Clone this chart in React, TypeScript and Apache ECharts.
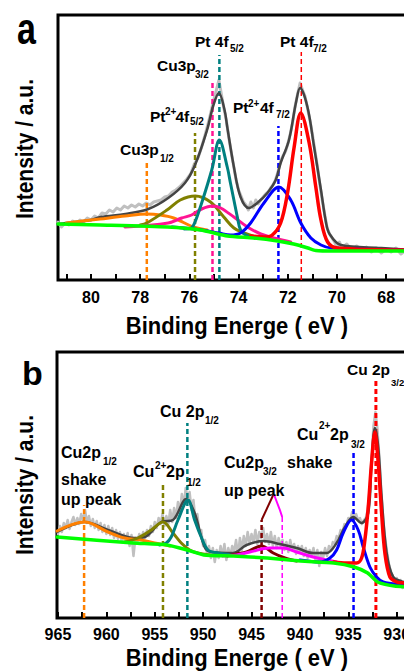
import React, { useEffect, useRef } from "react";
import * as echarts from "echarts";

// ================= Panel a : Pt 4f / Cu 3p =================
const aTickLabels = [68, 70, 72, 74, 76, 78, 80];
const aTicks = [67, 68, 69, 70, 71, 72, 73, 74, 75, 76, 77, 78, 79, 80, 81];

const aRaw: number[][] = [
  [81.34, 58], [81.2, 53], [81.05, 57], [80.9, 55], [80.75, 59], [80.6, 56], [80.45, 60], [80.3, 58],
  [80.15, 62], [80.0, 60], [79.85, 64], [79.7, 62], [79.55, 67], [79.4, 66], [79.25, 70], [79.1, 68],
  [78.95, 72], [78.8, 70], [78.65, 74], [78.5, 72], [78.35, 75], [78.2, 73], [78.05, 76], [77.9, 74],
  [77.75, 77], [77.6, 75], [77.45, 78], [77.3, 79], [77.15, 80], [77.0, 83], [76.85, 84], [76.7, 88],
  [76.55, 90], [76.4, 93], [76.25, 97], [76.1, 101], [75.95, 106], [75.8, 116], [75.65, 122], [75.5, 133],
  [75.35, 146], [75.2, 160], [75.05, 176], [74.9, 190], [74.8, 200], [74.7, 186], [74.6, 172], [74.5, 160],
  [74.4, 143], [74.3, 128], [74.2, 114], [74.1, 100], [74.0, 90], [73.9, 84], [73.8, 78], [73.7, 75],
  [73.6, 70], [73.5, 78], [73.4, 72], [73.3, 80], [73.2, 76], [73.1, 80], [73.0, 83], [72.9, 86],
  [72.8, 88], [72.7, 92], [72.6, 95], [72.5, 100], [72.4, 108], [72.3, 118], [72.2, 124], [72.1, 128],
  [72.0, 136], [71.9, 146], [71.8, 158], [71.7, 174], [71.6, 186], [71.5, 197], [71.4, 190], [71.3, 184],
  [71.2, 172], [71.1, 160], [71.0, 146], [70.9, 130], [70.8, 114], [70.7, 96], [70.6, 80], [70.5, 66],
  [70.4, 52], [70.3, 46], [70.2, 42], [70.1, 38], [70.0, 33], [69.9, 38], [69.8, 32], [69.6, 36],
  [69.4, 30], [69.2, 34], [69.0, 30], [68.8, 33], [68.6, 28], [68.4, 32], [68.2, 27], [68.0, 31],
  [67.8, 28], [67.6, 32], [67.4, 26], [67.2, 30], [66.95, 28],
];
const aEnvelope: number[][] = [
  [81.34, 56], [81.0, 57], [80.0, 60], [79.6, 63], [78.6, 66], [77.67, 71], [76.86, 82], [76.18, 97],
  [75.77, 115], [75.28, 150], [75.02, 175], [74.8, 187], [74.57, 170], [74.46, 153], [74.19, 113],
  [73.92, 83], [73.58, 72], [73.24, 77], [72.83, 87], [72.49, 100], [72.29, 117], [71.95, 140],
  [71.67, 177], [71.5, 192], [71.2, 173], [70.93, 133], [70.65, 90], [70.45, 58], [70.3, 46],
  [69.84, 35], [68.2, 32], [66.95, 30],
];
const aBaseline: number[][] = [
  [81.34, 56], [79.63, 55], [76.9, 53], [75.55, 50], [74.45, 44], [73.39, 42], [72.41, 39],
  [71.76, 36], [71.18, 32], [70.86, 29.5], [70.12, 29], [66.95, 29],
];
const aRed: number[][] = [
  [73.5, 44], [72.97, 43], [72.63, 45], [72.29, 57], [72.01, 87], [71.74, 133], [71.47, 167],
  [71.13, 137], [70.86, 93], [70.65, 60], [70.38, 38], [69.97, 32], [66.95, 30],
];
const aBlue: number[][] = [
  [76.7, 53], [75.5, 50], [74.8, 47], [74.33, 45], [73.92, 47], [73.51, 57], [72.97, 77], [72.36, 93],
  [71.88, 80], [71.47, 57], [71.06, 42], [70.65, 35], [70.24, 32], [66.95, 30],
];
const aTeal: number[][] = [
  [76.2, 51], [75.92, 52], [75.77, 58], [75.5, 77], [75.09, 110], [74.78, 140], [74.46, 113],
  [74.33, 97], [74.19, 80], [74.05, 63], [73.92, 50], [73.71, 45], [73.31, 42],
];
const aPink: number[][] = [
  [78.62, 53], [76.86, 57], [76.31, 62], [75.91, 65], [75.5, 71], [75.06, 74], [74.73, 72],
  [74.19, 63], [73.64, 53], [73.1, 46], [72.57, 42], [71.88, 38],
];
const aOlive: number[][] = [
  [78.0, 55], [77.73, 57], [76.91, 70], [76.37, 80], [75.76, 84], [75.14, 78], [74.6, 63],
  [74.19, 52], [73.78, 47], [73.31, 43],
];
const aOrange: number[][] = [
  [81.0, 57], [79.63, 61], [78.61, 64], [77.73, 66], [77.18, 65], [76.64, 62], [75.83, 53], [75.28, 50],
];
// peak position markers: [binding energy, top of marker]
const aMarkOrange = [77.73, 117];
const aMarkOlive = [75.77, 147];
const aMarkPink = [75.06, 200];
const aMarkTeal = [74.78, 225];
const aMarkBlue = [72.38, 154];
const aMarkRed = [71.45, 228];

// ================= Panel b : Cu 2p =================
const bTickLabels = [930, 935, 940, 945, 950, 955, 960, 965];
const bTicks = [930, 932.5, 935, 937.5, 940, 942.5, 945, 947.5, 950, 952.5, 955, 957.5, 960, 962.5, 965];

const bRaw: number[][] = [
  [965.0, 84], [964.8, 92], [964.6, 86], [964.4, 95], [964.2, 90], [964.0, 98], [963.8, 89], [963.6, 96],
  [963.4, 101], [963.2, 93], [963.0, 100], [962.8, 94], [962.6, 104], [962.4, 97], [962.2, 108], [962.0, 95],
  [961.8, 102], [961.6, 92], [961.4, 99], [961.2, 90], [961.0, 97], [960.8, 88], [960.6, 95], [960.4, 86],
  [960.2, 93], [960.0, 84], [959.8, 92], [959.6, 83], [959.4, 90], [959.2, 80], [959.0, 88], [958.8, 79],
  [958.6, 86], [958.4, 76], [958.2, 84], [958.0, 78], [957.8, 85], [957.6, 72], [957.4, 83], [957.2, 62],
  [957.0, 80], [956.8, 76], [956.6, 84], [956.4, 78], [956.2, 86], [956.0, 80], [955.8, 88], [955.6, 82],
  [955.4, 92], [955.2, 86], [955.0, 96], [954.8, 90], [954.6, 100], [954.4, 94], [954.2, 104], [954.0, 92],
  [953.8, 102], [953.6, 94], [953.4, 108], [953.2, 96], [953.0, 110], [952.8, 100], [952.6, 116], [952.4, 106],
  [952.2, 124], [952.0, 112], [951.8, 130], [951.6, 120], [951.4, 126], [951.2, 108], [951.0, 118], [950.8, 98],
  [950.6, 104], [950.4, 86], [950.2, 88], [950.0, 72], [949.8, 78], [949.6, 64], [949.4, 72], [949.2, 60],
  [949.0, 70], [948.8, 56], [948.6, 68], [948.4, 60], [948.2, 72], [948.0, 62], [947.8, 74], [947.6, 58],
  [947.4, 70], [947.2, 62], [947.0, 72], [946.8, 66], [946.6, 78], [946.4, 62], [946.2, 80], [946.0, 68],
  [945.8, 82], [945.6, 72], [945.4, 86], [945.2, 74], [945.0, 84], [944.8, 76], [944.6, 88], [944.4, 74],
  [944.2, 86], [944.0, 80], [943.8, 90], [943.6, 76], [943.4, 84], [943.2, 74], [943.0, 86], [942.8, 72],
  [942.6, 82], [942.4, 70], [942.2, 80], [942.0, 72], [941.8, 78], [941.6, 68], [941.4, 76], [941.2, 66],
  [941.0, 78], [940.8, 68], [940.6, 74], [940.4, 64], [940.2, 72], [940.0, 66], [939.8, 72], [939.6, 62],
  [939.4, 70], [939.2, 60], [939.0, 68], [938.8, 62], [938.6, 70], [938.4, 58], [938.2, 68], [938.0, 52],
  [937.8, 66], [937.6, 60], [937.4, 70], [937.2, 62], [937.0, 72], [936.8, 68], [936.6, 76], [936.4, 74],
  [936.2, 82], [936.0, 80], [935.8, 88], [935.6, 86], [935.4, 94], [935.2, 92], [935.0, 100], [934.8, 98],
  [934.6, 106], [934.4, 102], [934.2, 104], [934.0, 98], [933.8, 100], [933.6, 94], [933.4, 98], [933.2, 100],
  [933.0, 108], [932.8, 128], [932.6, 160], [932.4, 192], [932.2, 206], [932.0, 190], [931.8, 162], [931.6, 128],
  [931.4, 100], [931.2, 80], [931.0, 66], [930.8, 54], [930.6, 46], [930.4, 42], [930.2, 38], [930.0, 40],
  [929.8, 34], [929.6, 38], [929.4, 30], [929.2, 36], [929.0, 20], [928.8, 32], [928.6, 28], [928.42, 34],
];
const bEnvelope: number[][] = [
  [965.1, 86], [962.24, 96], [959.83, 88], [957.08, 80], [956.04, 81], [954.33, 96], [953.12, 98],
  [951.75, 119], [950.88, 105], [949.85, 71], [949.16, 66], [946.92, 65], [945.51, 73], [943.79, 77],
  [942.07, 74], [940.34, 70], [938.63, 65], [937.24, 65], [936.21, 75], [935.35, 91], [934.49, 101],
  [933.63, 95], [932.94, 105], [932.6, 155], [932.25, 190], [931.91, 171], [931.56, 121], [931.04, 65],
  [930.36, 41], [929.26, 36], [928.42, 35],
];
const bBaseline: number[][] = [
  [965.1, 81], [957.23, 75], [953.74, 73], [951.66, 68], [949.94, 63], [946.87, 62], [943.37, 60],
  [939.92, 57], [936.5, 55], [934.4, 51], [933.0, 45], [931.97, 36], [930.25, 32], [928.42, 31],
];
const bRed: number[][] = [
  [936.5, 56], [935.18, 55], [934.15, 55], [933.63, 60], [933.29, 78], [932.94, 111], [932.6, 155],
  [932.25, 186], [931.91, 155], [931.56, 105], [931.22, 65], [930.7, 41], [930.01, 36], [929.26, 35], [928.42, 34],
];
const bBlue: number[][] = [
  [940.0, 58], [937.93, 56], [936.9, 60], [936.21, 68], [935.53, 85], [934.67, 98], [933.98, 88],
  [933.46, 71], [932.77, 51], [932.08, 41], [931.39, 36], [929.26, 33], [928.42, 32],
];
const bMagenta: number[][] = [
  [948.0, 62], [946.55, 63], [945.17, 66], [943.1, 70], [941.73, 70], [940.34, 66], [938.63, 61],
  [937.24, 58], [936.21, 56],
];
const bDarkRed: number[][] = [
  [947.5, 62], [946.55, 64], [945.51, 66], [943.96, 72], [942.76, 65], [941.55, 60], [940.34, 57],
];
const bTeal: number[][] = [
  [954.5, 73], [953.81, 75], [953.3, 81], [952.6, 98], [951.57, 118], [950.88, 98], [950.2, 81],
  [949.5, 68], [948.47, 65], [946.92, 63],
];
const bOlive: number[][] = [
  [958.11, 76], [956.74, 80], [955.36, 88], [954.15, 96], [953.12, 85], [952.26, 75], [951.39, 68],
  [950.54, 65], [949.3, 63],
];
const bOrange: number[][] = [
  [965.1, 87], [962.24, 96], [959.83, 86], [958.11, 80], [956.4, 78], [955.01, 75], [953.43, 72],
];
const bMarkOrange = [962.3, 113];
const bMarkOlive = [954.15, 133];
const bMarkTeal = [951.63, 195];
const bMarkDarkRed = [943.96, 98];
const bMarkMagenta = [941.83, 101];
const bMarkBlue = [934.46, 166];
const bMarkRed = [932.15, 240];
// the two legs pointing at the shake-up label
const bLegDarkRed: number[][] = [[943.96, 98], [942.76, 123]];
const bLegMagenta: number[][] = [[941.83, 101], [942.07, 108], [942.66, 123]];

const FONT = '"Liberation Sans", Arial, Helvetica, sans-serif';

function curve(data: number[][], color: string, width: number, gi: number, z: number, smooth: number | boolean = 0.35) {
  return {
    type: "line",
    data,
    xAxisIndex: gi,
    yAxisIndex: gi,
    symbol: "none",
    smooth,
    z,
    silent: true,
    lineStyle: { color, width, cap: "round", join: "round" },
  };
}
function marker(m: number[], color: string, width: number, gi: number) {
  return {
    type: "line",
    data: [[m[0], 0], [m[0], m[1]]],
    xAxisIndex: gi,
    yAxisIndex: gi,
    symbol: "none",
    z: 2,
    silent: true,
    lineStyle: { color, width, type: [5, 3] },
  };
}
function leg(data: number[][], color: string, gi: number) {
  return {
    type: "line",
    data,
    xAxisIndex: gi,
    yAxisIndex: gi,
    symbol: "none",
    z: 2,
    silent: true,
    lineStyle: { color, width: 2 },
  };
}

function txt(text: string, x: number, y: number, size: number, extra: any = {}) {
  const { align, ...rest } = extra;
  return {
    type: "text",
    x,
    y,
    z: 100,
    silent: true,
    ...rest,
    style: {
      text,
      fill: "#000",
      font: `bold ${size}px ${FONT}`,
      textAlign: align || "left",
      textVerticalAlign: "middle",
      verticalAlign: "middle",
    },
  };
}

function xAxisCfg(gi: number, min: number, max: number, labels: number[], ticks: number[], margin: number) {
  return {
    type: "value",
    gridIndex: gi,
    min,
    max,
    inverse: true,
    splitNumber: 7,
    axisLine: { show: false },
    axisTick: { show: true, inside: true, length: 6, customValues: ticks, lineStyle: { color: "#000", width: 2 } },
    axisLabel: {
      show: true,
      customValues: labels,
      margin,
      color: "#000",
      fontSize: 16,
      fontWeight: "bold",
      fontFamily: FONT,
    },
    splitLine: { show: false },
  };
}
function yAxisCfg(gi: number, max: number) {
  return {
    type: "value",
    gridIndex: gi,
    min: 0,
    max,
    axisLine: { show: false },
    axisTick: { show: false },
    axisLabel: { show: false },
    splitLine: { show: false },
  };
}

export default function App() {
  const ref = useRef<HTMLDivElement>(null);
  useEffect(() => {
    if (!ref.current) return;
    const chart = echarts.init(ref.current, undefined, { renderer: "svg" });
    const M = 15.5;
    const S = 10;
    const MB = 16;
    const option: any = {
      animation: false,
      backgroundColor: "#fff",
      grid: [
        { left: 58, top: 15, width: 354, height: 265, show: true, borderColor: "#000", borderWidth: 3, backgroundColor: "transparent", containLabel: false, outerBoundsMode: "none" },
        { left: 57, top: 352, width: 355, height: 266, show: true, borderColor: "#000", borderWidth: 3, backgroundColor: "transparent", containLabel: false, outerBoundsMode: "none" },
      ],
      xAxis: [
        xAxisCfg(0, 66.95, 81.34, aTickLabels, aTicks, 9),
        xAxisCfg(1, 928.42, 965.1, bTickLabels, bTicks, 8.5),
      ],
      yAxis: [yAxisCfg(0, 265), yAxisCfg(1, 266)],
      series: [
        // panel a
        curve(aRaw, "#c0c0c0", 3, 0, 1, false),
        marker(aMarkOrange, "#ff8000", 2.5, 0),
        marker(aMarkOlive, "#808000", 2.5, 0),
        marker(aMarkPink, "#ff1493", 2.5, 0),
        marker(aMarkTeal, "#008080", 2.5, 0),
        marker(aMarkBlue, "#0000ff", 2.5, 0),
        marker(aMarkRed, "#ff0000", 1.5, 0),
        curve(aEnvelope, "#444444", 2.5, 0, 3),
        curve(aOrange, "#ff8000", 3, 0, 4),
        curve(aOlive, "#808000", 3, 0, 4),
        curve(aPink, "#ff1493", 3, 0, 4),
        curve(aTeal, "#008080", 3, 0, 4),
        curve(aBlue, "#0000ff", 3, 0, 4),
        curve(aRed, "#ff0000", 3.5, 0, 4),
        curve(aBaseline, "#00ff00", 3.5, 0, 5, 0.2),
        // panel b
        curve(bRaw, "#c0c0c0", 2.5, 1, 1, false),
        marker(bMarkOrange, "#ff8000", 2.5, 1),
        marker(bMarkOlive, "#808000", 2.5, 1),
        marker(bMarkTeal, "#008080", 2.5, 1),
        marker(bMarkDarkRed, "#800000", 2.5, 1),
        marker(bMarkMagenta, "#ff00ff", 1.5, 1),
        marker(bMarkBlue, "#0000ff", 2.5, 1),
        marker(bMarkRed, "#ff0000", 3, 1),
        leg(bLegDarkRed, "#800000", 1),
        leg(bLegMagenta, "#ff00ff", 1),
        curve(bEnvelope, "#444444", 2.5, 1, 3),
        curve(bOrange, "#ff8000", 3, 1, 4),
        curve(bOlive, "#808000", 3, 1, 4),
        curve(bTeal, "#008080", 3, 1, 4),
        curve(bDarkRed, "#800000", 3, 1, 4),
        curve(bMagenta, "#ff00ff", 3, 1, 4),
        curve(bBlue, "#0000ff", 3, 1, 4),
        curve(bRed, "#ff0000", 3.5, 1, 4),
        curve(bBaseline, "#00ff00", 3.5, 1, 5, 0.2),
      ],
      graphic: [
        // panel letters & axis titles
        txt("a", 17, 28, 34, { scaleY: 1.3 }),
        txt("b", 22, 373, 34),
        txt("Intensity / a.u.", 25, 149, 21, { rotation: Math.PI / 2, align: "center", scaleY: 1.1 }),
        txt("Intensity / a.u.", 25, 485, 21, { rotation: Math.PI / 2, align: "center", scaleY: 1.1 }),
        txt("Binding Energe ( eV )", 237, 326, 22, { align: "center", scaleY: 1.08 }),
        txt("Binding Energe ( eV )", 237, 658.5, 22, { align: "center", scaleY: 1.05 }),
        // panel a labels
        txt("Pt 4f", 195, 41, M), txt("5/2", 230, 48, S),
        txt("Pt 4f", 280, 41, M), txt("7/2", 313, 48, S),
        txt("Cu3p", 157, 65, M), txt("3/2", 195, 74, S),
        txt("Pt", 150, 116, M), txt("2+", 165, 111, S), txt("4f", 175.5, 116, M), txt("5/2", 190, 121, S),
        txt("Cu3p", 120, 149, M), txt("1/2", 160, 158, S),
        txt("Pt", 233, 107, M), txt("2+", 248, 103, S), txt("4f", 260, 107, M), txt("7/2", 276, 114, S),
        // panel b labels
        txt("Cu 2p", 347, 369, M), txt("3/2", 391, 382, 9.5),
        txt("Cu 2p", 160, 411, MB), txt("1/2", 205, 420.5, S),
        txt("Cu2p", 61, 452.5, MB), txt("1/2", 103, 461, S),
        txt("shake", 61, 479, MB), txt("up peak", 61, 499, MB),
        txt("Cu", 133, 471.5, MB), txt("2+", 155, 465.5, S), txt("2p", 166, 471.5, MB), txt("1/2", 187, 482.5, S),
        txt("Cu", 297, 434, MB), txt("2+", 319, 425, S), txt("2p", 330, 434, MB), txt("3/2", 351, 444, S),
        txt("Cu2p", 224, 462.5, MB), txt("3/2", 263, 471, S), txt("shake", 287, 462.5, MB),
        txt("up peak", 224, 490.5, MB),
      ],
    };
    chart.setOption(option);
    return () => chart.dispose();
  }, []);
  return (
    <div style={{ position: "fixed", left: 0, top: 0, width: 404, height: 671, overflow: "hidden", background: "#fff" }}>
      <div ref={ref} style={{ width: 412, height: 671 }} />
    </div>
  );
}
